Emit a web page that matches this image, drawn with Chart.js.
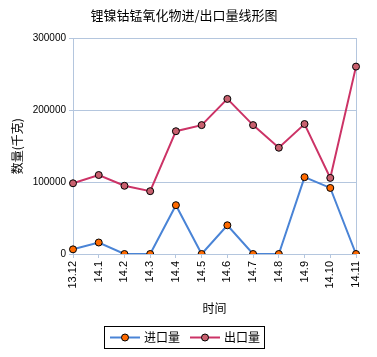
<!DOCTYPE html>
<html>
<head>
<meta charset="utf-8">
<script src="https://cdn.jsdelivr.net/npm/chart.js@4/dist/chart.umd.min.js"></script>
<style>
  html, body { margin: 0; padding: 0; background: #fff; }
  #wrap { width: 377px; height: 357px; }
</style>
</head>
<body>
<div id="wrap"><canvas id="c" width="377" height="357"></canvas></div>
<script>
const categories = ["13.12", "14.1", "14.2", "14.3", "14.4", "14.5", "14.6", "14.7", "14.8", "14.9", "14.10", "14.11"];
const importValues = [6500, 16000, 0, 0, 68000, 0, 40000, 0, 0, 107000, 92000, 0];
const exportValues = [98500, 110000, 95000, 87500, 171000, 179500, 216000, 179500, 148000, 181000, 106000, 261000];
const yTicks = [0, 100000, 200000, 300000];
const seriesNames = ["进口量", "出口量"];
const chartTitle = "锂镍钴锰氧化物进/出口量线形图";
const xTitle = "时间";
const yTitle = "数量(千克)";

const CJK = "'Noto Sans CJK SC', 'Noto Sans', sans-serif";
const LAT = "'Liberation Sans', Arial, sans-serif";
const BLUE = "#4a84d6";
const RED = "#cc3366";
const GRID = "#b4c6de";

const legendBox = {
  id: "legendBox",
  afterDraw(chart) {
    const ctx = chart.ctx;
    const ds = chart.data.datasets;
    ctx.save();
    ctx.strokeStyle = "#000";
    ctx.lineWidth = 1;
    ctx.strokeRect(104.5, 326.5, 160, 22);
    const items = [{x: 110, ds: ds[0]}, {x: 190, ds: ds[1]}];
    items.forEach(it => {
      const y = 337.5;
      ctx.strokeStyle = it.ds.borderColor;
      ctx.lineWidth = 2;
      ctx.beginPath();
      ctx.moveTo(it.x, y);
      ctx.lineTo(it.x + 30, y);
      ctx.stroke();
      ctx.beginPath();
      ctx.arc(it.x + 15, y, 3.5, 0, Math.PI * 2);
      ctx.fillStyle = it.ds.pointBackgroundColor;
      ctx.fill();
      ctx.strokeStyle = "#000";
      ctx.lineWidth = 1;
      ctx.stroke();
      ctx.fillStyle = "#000";
      ctx.font = "12px " + CJK;
      ctx.textBaseline = "middle";
      ctx.textAlign = "left";
      ctx.fillText(it.ds.label, it.x + 34, y);
    });
    ctx.restore();
  }
};

new Chart(document.getElementById("c"), {
  type: "line",
  data: {
    labels: categories,
    datasets: [
      {
        label: seriesNames[0],
        data: importValues,
        borderColor: BLUE,
        borderWidth: 2,
        pointBackgroundColor: "#ff6a00",
        pointBorderColor: "#000",
        pointBorderWidth: 1,
        pointRadius: 3.5,
        tension: 0
      },
      {
        label: seriesNames[1],
        data: exportValues,
        borderColor: RED,
        borderWidth: 2,
        pointBackgroundColor: "#c8606e",
        pointBorderColor: "#000",
        pointBorderWidth: 1,
        pointRadius: 3.5,
        tension: 0
      }
    ]
  },
  options: {
    responsive: false,
    animation: false,
    devicePixelRatio: 1,
    layout: { padding: { left: 0, right: 9, top: 0, bottom: 41 } },
    plugins: {
      legend: { display: false },
      tooltip: { enabled: false },
      title: {
        display: true,
        text: chartTitle,
        color: "#000",
        font: { family: CJK, size: 13, weight: "normal" },
        padding: { top: 7, bottom: 16 }
      }
    },
    scales: {
      x: {
        type: "category",
        offset: false,
        grid: { drawOnChartArea: false, drawTicks: true, tickLength: 4, color: GRID },
        border: { color: GRID },
        ticks: {
          color: "#000",
          font: { family: LAT, size: 11 },
          minRotation: 90,
          maxRotation: 90,
          autoSkip: false,
          padding: 3
        },
        title: {
          display: true,
          text: xTitle,
          color: "#000",
          font: { family: CJK, size: 12 },
          padding: { top: 0, bottom: 0 }
        },
        afterFit(s) { s.height = 62; }
      },
      y: {
        min: 0,
        max: 300000,
        afterBuildTicks(s) { s.ticks = yTicks.map(v => ({ value: v })); },
        grid: { color: GRID, tickLength: 4, drawTicks: true },
        border: { color: GRID },
        ticks: {
          color: "#000",
          font: { family: LAT, size: 10 },
          padding: 3,
          callback: v => String(v)
        },
        title: {
          display: true,
          text: yTitle,
          color: "#000",
          font: { family: CJK, size: 12 },
          padding: { top: 10, bottom: 0 }
        },
        afterFit(s) { s.width = 73; }
      },
      yRight: {
        position: "right",
        min: 0,
        max: 300000,
        grid: { display: false, drawTicks: false },
        border: { display: true, color: GRID },
        ticks: { display: false },
        afterFit(s) { s.width = 12; }
      }
    }
  },
  plugins: [legendBox]
});
</script>
</body>
</html>
